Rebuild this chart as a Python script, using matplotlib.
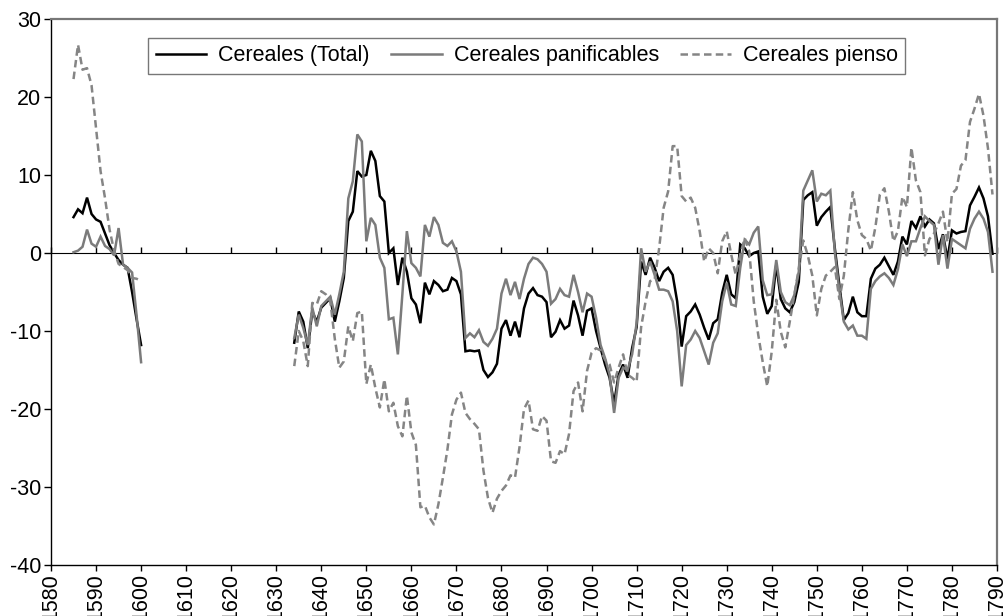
import numpy as np
import matplotlib
matplotlib.use("Agg")
import matplotlib.pyplot as plt

plt.rcParams['font.family'] = ['Liberation Sans', 'DejaVu Sans']
plt.rcParams['axes.unicode_minus'] = False

# ---- data: first segment 1585-1600 ----
years_a = list(range(1585, 1601))
total_a = [4.6, 5.6, 5.1, 7.1, 5.0, 4.3, 4.0, 2.5, 1.0, 0.0, -0.9, -1.5, -1.9, -5.0, -8.5, -11.8]
pan_a = [0.1, 0.3, 0.8, 3.0, 1.2, 0.8, 2.1, 0.9, 0.5, -0.3, 3.2, -1.5, -1.9, -2.5, -8.0, -14.0]
pienso_a = [22.3, 26.7, 23.5, 23.7, 21.5, 16.0, 10.5, 7.0, 3.0, 0.3, -1.4, -1.8, -2.2, -3.2, -3.3, -3.6]

# ---- data: second segment 1634-1789 ----
years_b = list(range(1634, 1790))
total_b = [
    -11.5, -7.5, -8.8, -12.2, -7.5, -8.8,                                   # 1634-1639
    -7.0, -6.4, -5.8, -8.8, -6.2, -3.2, 4.1, 5.3, 10.5, 9.8,                # 1640s
    10.0, 13.1, 11.8, 7.3, 6.6, 0.0, 0.6, -4.1, -0.6, -2.4,                 # 1650s
    -5.8, -6.6, -9.0, -3.8, -5.3, -3.6, -4.1, -4.9, -4.7, -3.2,             # 1660s
    -3.6, -5.3, -12.6, -12.5, -12.6, -12.5, -15.0, -15.9, -15.3, -14.2,     # 1670s
    -9.7, -8.6, -10.6, -8.8, -10.8, -7.1, -5.2, -4.5, -5.4, -5.6,           # 1680s
    -6.3, -10.8, -10.1, -8.6, -9.7, -9.3, -6.1, -8.0, -10.6, -7.4,          # 1690s
    -7.1, -10.0, -12.2, -14.3, -16.0, -19.3, -15.6, -14.3, -16.0, -12.2,    # 1700s
    -9.5, -1.1, -2.8, -0.6, -1.9, -3.6, -2.4, -1.9, -2.8, -6.2,             # 1710s
    -12.0, -8.1, -7.5, -6.6, -7.9, -9.6, -11.1, -9.0, -8.5, -5.1,           # 1720s
    -2.8, -5.3, -5.8, 1.1, 0.6, -0.4, 0.0, 0.2, -5.6, -7.8,                 # 1730s
    -6.8, -1.5, -5.9, -7.1, -7.6, -6.3, -3.7, 6.8, 7.4, 7.8,                # 1740s
    3.5, 4.6, 5.3, 5.9, 0.6, -4.1, -8.6, -7.7, -5.6, -7.6,                  # 1750s
    -8.1, -8.1, -3.3, -2.0, -1.5, -0.6, -1.7, -2.8, -1.1, 2.1,              # 1760s
    1.1, 4.1, 3.2, 4.7, 3.4, 4.3, 3.8, 0.5, 2.4, -0.8,                      # 1770s
    2.9, 2.5, 2.7, 2.8, 6.1, 7.2, 8.4, 7.0, 4.7, -0.1,                      # 1780s
]
pan_b = [
    -10.9, -7.9, -9.6, -11.8, -7.0, -9.4,                                   # 1634-1639
    -6.8, -6.2, -5.6, -7.9, -5.3, -2.4, 7.0, 9.2, 15.2, 14.3,               # 1640s
    1.5, 4.5, 3.6, -0.6, -1.9, -8.5, -8.3, -13.0, -5.3, 2.8,                # 1650s
    -1.3, -1.9, -3.0, 3.6, 2.1, 4.6, 3.6, 1.3, 0.9, 1.5,                    # 1660s
    0.2, -2.4, -10.9, -10.3, -10.8, -9.9, -11.4, -11.9, -11.0, -9.7,        # 1670s
    -5.2, -3.3, -5.4, -3.7, -5.9, -3.3, -1.4, -0.6, -0.8, -1.4,             # 1680s
    -2.4, -6.5, -5.9, -4.6, -5.4, -5.6, -2.8, -5.0, -7.6, -5.2,             # 1690s
    -5.6, -8.3, -11.8, -13.5, -15.6, -20.5, -16.0, -14.7, -15.0, -13.0,     # 1700s
    -9.0, 0.6, -2.4, -1.1, -2.8, -4.7, -4.7, -4.9, -6.2, -10.0,             # 1710s
    -17.1, -11.8, -11.1, -10.0, -10.9, -12.6, -14.3, -11.5, -10.3, -6.2,    # 1720s
    -3.8, -6.6, -6.8, -1.9, 1.7, 1.1, 2.6, 3.4, -3.5, -5.4,                 # 1730s
    -5.3, -0.9, -5.0, -6.3, -6.7, -5.4, -2.4, 8.0, 9.3, 10.6,               # 1740s
    6.6, 7.6, 7.4, 8.0, 0.1, -4.8, -8.8, -9.8, -9.3, -10.6,                 # 1750s
    -10.6, -11.0, -4.6, -3.6, -3.0, -2.6, -3.2, -4.1, -2.1, 1.1,            # 1760s
    -0.4, 1.5, 1.5, 3.2, 4.7, 4.1, 3.6, -1.5, 2.3, -2.0,                    # 1770s
    1.8, 1.4, 1.0, 0.6, 3.1, 4.4, 5.3, 4.4, 2.7, -2.4,                      # 1780s
]
pienso_b = [
    -14.5, -10.0, -11.3, -14.5, -6.4, -6.6,                                 # 1634-1639
    -4.9, -5.3, -6.2, -11.0, -14.7, -13.9, -9.4, -11.3, -7.7, -7.5,         # 1640s
    -16.8, -14.3, -17.3, -19.8, -16.2, -20.3, -19.2, -22.2, -23.5, -18.3,   # 1650s
    -23.0, -24.6, -32.6, -32.4, -33.9, -34.8, -32.2, -28.8, -25.2, -20.7,   # 1660s
    -18.8, -17.9, -20.5, -21.3, -21.9, -22.6, -27.9, -31.4, -33.3, -31.5,   # 1670s
    -30.5, -29.8, -28.5, -28.8, -24.9, -20.0, -18.9, -22.6, -22.8, -20.9,   # 1680s
    -21.5, -26.7, -26.9, -25.4, -25.8, -23.2, -17.7, -16.6, -20.3, -15.1,   # 1690s
    -12.8, -12.2, -12.5, -13.7, -14.3, -16.6, -14.7, -13.0, -15.6, -16.0,   # 1700s
    -16.5, -9.5, -6.2, -3.6, -3.4, 0.6, 5.8, 7.9, 13.7, 13.7,               # 1710s
    7.3, 6.6, 7.1, 5.8, 2.8, -1.1, 0.6, 0.0, -2.6, 1.5,                     # 1720s
    2.8, -0.2, -2.8, -0.2, 1.9, 0.2, -6.2, -10.5, -14.0, -17.1,             # 1730s
    -12.6, -6.0, -10.1, -12.1, -8.8, -5.4, -2.0, 1.6, -0.3, -2.9,           # 1740s
    -8.0, -4.6, -2.9, -2.4, -1.8, -5.9, -2.9, 3.0, 7.8, 4.2,                # 1750s
    2.3, 1.8, 0.3, 3.3, 7.5, 8.3, 5.3, 1.5, 2.8, 7.2,                       # 1760s
    5.9, 13.5, 9.3, 7.8, -0.3, 1.8, 2.5, 3.8, 5.3, 1.4,                     # 1770s
    7.6, 8.2, 11.2, 11.9, 16.8, 18.5, 20.4, 17.6, 13.4, 7.5,                # 1780s
]

labels = ["Cereales (Total)", "Cereales panificables", "Cereales pienso"]
x_ticks = list(range(1580, 1791, 10))
y_ticks = list(range(-40, 31, 10))

# ---- figure ----
fig = plt.figure(figsize=(10.05, 6.16), dpi=100)
ax = fig.add_axes([51 / 1005, 51 / 616, 946 / 1005, 546 / 616])

black = "#000000"
grey = "#7b7b7b"
dgrey = "#858585"
lw = 1.8

for yrs, t, p, s, lab in [(years_a, total_a, pan_a, pienso_a, True),
                          (years_b, total_b, pan_b, pienso_b, False)]:
    ax.plot(yrs, t, color=black, lw=lw, label=labels[0] if lab else None,
            solid_joinstyle='miter')
    ax.plot(yrs, p, color=grey, lw=lw, label=labels[1] if lab else None,
            solid_joinstyle='miter')
    ax.plot(yrs, s, color=dgrey, lw=lw, dashes=(3.0, 1.7),
            label=labels[2] if lab else None)

ax.set_xlim(1580, 1790)
ax.set_ylim(-40, 30)

fs = 15.5

# y axis
ax.set_yticks(y_ticks)
ax.set_yticklabels([str(v) for v in y_ticks], fontsize=fs)
ax.tick_params(axis='y', direction='out', length=5, width=1, pad=2)

# x axis at bottom: labels, rotated
ax.set_xticks(x_ticks)
ax.set_xticklabels([str(v) for v in x_ticks], rotation=90, fontsize=fs)
ax.tick_params(axis='x', direction='out', length=4, width=1, pad=2)

# zero line with tick marks
zero_frac = (0 - (-40)) / (30 - (-40))
sec = ax.secondary_xaxis(zero_frac)
sec.set_xticks(x_ticks)
sec.set_xticklabels([])
sec.tick_params(axis='x', direction='out', length=4, width=1)
sec.spines['bottom'].set_linewidth(1.0)
sec.spines['bottom'].set_color('black')

for side in ['left', 'bottom']:
    ax.spines[side].set_color('black')
    ax.spines[side].set_linewidth(1.0)
for side in ['top', 'right']:
    ax.spines[side].set_color('#777777')
    ax.spines[side].set_linewidth(1.6)

leg = ax.legend(loc='upper center', bbox_to_anchor=(0.503, 0.966), ncol=3,
                frameon=True, fancybox=False, fontsize=fs,
                handlelength=2.35, handletextpad=0.55, columnspacing=1.0,
                borderpad=0.35, borderaxespad=0)
leg.get_frame().set_edgecolor('#555555')
leg.get_frame().set_linewidth(1.0)

fig.savefig("out.png", dpi=100)
